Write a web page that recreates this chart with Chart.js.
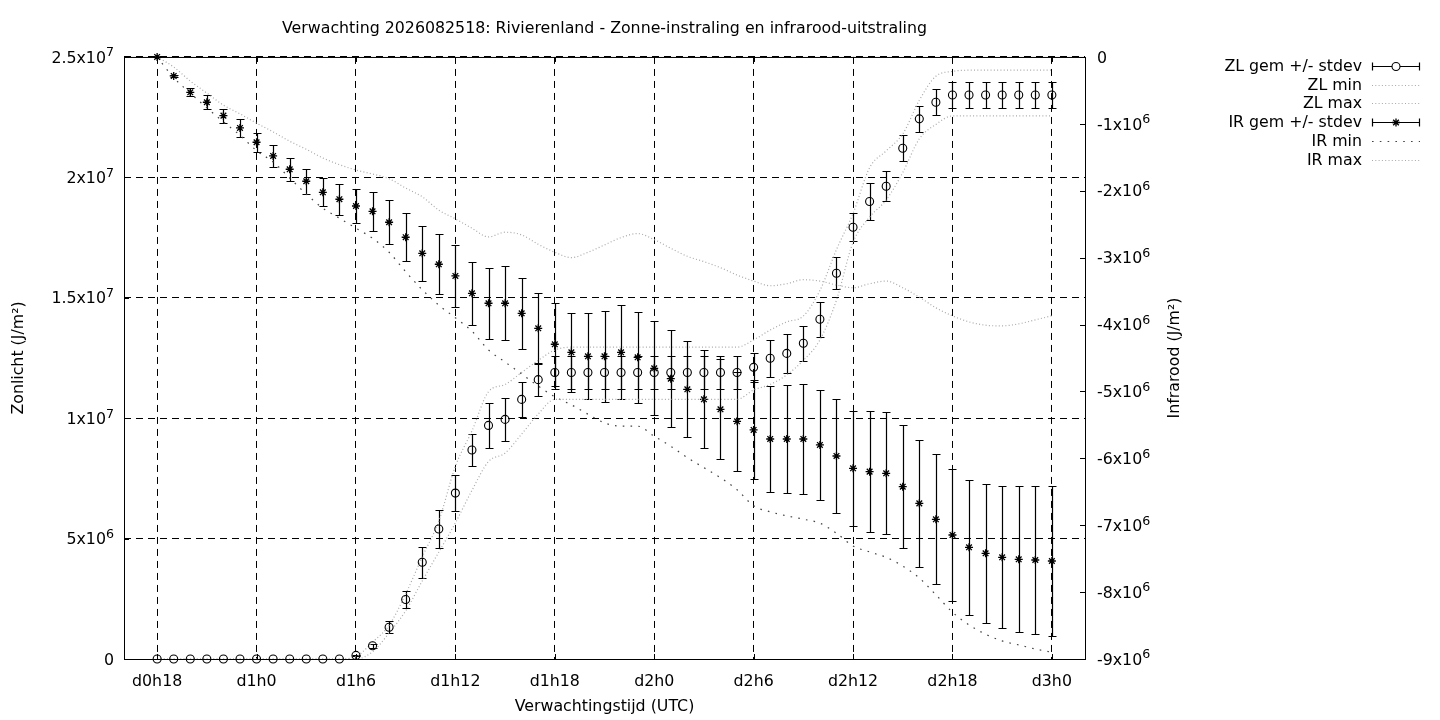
<!DOCTYPE html>
<html>
<head>
<meta charset="utf-8">
<title>Rivierenland - Zonne-instraling en infrarood-uitstraling</title>
<script src="https://cdn.jsdelivr.net/npm/chart.js@4.4.1/dist/chart.umd.min.js"></script>
<style>
  html, body { margin: 0; padding: 0; background: #fff; }
  #wrap { width: 1440px; height: 720px; }
</style>
</head>
<body>
<div id="wrap"><canvas id="chart" width="1440" height="720"></canvas></div>
<script>
// forecast hour, counted from d0h0
const hours = [
  18, 19, 20, 21, 22, 23, 24, 25, 26, 27, 28, 29,
  30, 31, 32, 33, 34, 35, 36, 37, 38, 39, 40, 41,
  42, 43, 44, 45, 46, 47, 48, 49, 50, 51, 52, 53,
  54, 55, 56, 57, 58, 59, 60, 61, 62, 63, 64, 65,
  66, 67, 68, 69, 70, 71, 72,
];

// zonlicht (J/m2), left axis
const zlMean = [
  0, 0, 0, 0, 0, 0, 0, 0, 0, 0, 0, 0,
  0.15e6, 0.55e6, 1.32e6, 2.47e6, 4.02e6, 5.4e6, 6.89e6, 8.68e6, 9.7e6, 9.95e6, 10.78e6, 11.6e6,
  11.9e6, 11.9e6, 11.9e6, 11.9e6, 11.9e6, 11.9e6, 11.9e6, 11.9e6, 11.9e6, 11.9e6, 11.9e6, 11.9e6,
  12.11e6, 12.49e6, 12.69e6, 13.11e6, 14.11e6, 16.02e6, 17.93e6, 19.0e6, 19.63e6, 21.21e6, 22.43e6, 23.12e6,
  23.42e6, 23.42e6, 23.42e6, 23.42e6, 23.42e6, 23.42e6, 23.42e6,
];
const zlStdev = [
  0, 0, 0, 0, 0, 0, 0, 0, 0, 0, 0, 0,
  0.03e6, 0.08e6, 0.25e6, 0.34e6, 0.64e6, 0.78e6, 0.75e6, 0.66e6, 0.95e6, 0.89e6, 0.73e6, 0.68e6,
  0.7e6, 0.7e6, 0.7e6, 0.7e6, 0.7e6, 0.7e6, 0.7e6, 0.7e6, 0.7e6, 0.7e6, 0.7e6, 0.7e6,
  0.6e6, 0.77e6, 0.8e6, 0.73e6, 0.73e6, 0.66e6, 0.58e6, 0.78e6, 0.62e6, 0.55e6, 0.55e6, 0.55e6,
  0.55e6, 0.55e6, 0.55e6, 0.55e6, 0.55e6, 0.55e6, 0.55e6,
];
const zlMin = [
  0, 0, 0, 0, 0, 0, 0, 0, 0, 0, 0, 0,
  0, 0.3e6, 1.08e6, 2.0e6, 3.24e6, 4.44e6, 5.65e6, 7.0e6, 8.2e6, 8.55e6, 9.34e6, 10.17e6,
  10.78e6, 10.78e6, 10.78e6, 10.78e6, 10.78e6, 10.78e6, 10.78e6, 10.78e6, 10.78e6, 10.78e6, 10.78e6, 10.78e6,
  11.17e6, 11.4e6, 11.8e6, 12.4e6, 13.25e6, 14.9e6, 17.3e6, 18.35e6, 19.06e6, 20.2e6, 21.6e6, 22.2e6,
  22.55e6, 22.55e6, 22.55e6, 22.55e6, 22.55e6, 22.55e6, 22.55e6,
];
const zlMax = [
  0, 0, 0, 0, 0, 0, 0, 0, 0, 0, 0, 0,
  0.1e6, 0.7e6, 1.4e6, 2.7e6, 4.24e6, 5.73e6, 8.0e6, 9.47e6, 11.1e6, 11.4e6, 11.9e6, 12.4e6,
  12.83e6, 12.95e6, 12.95e6, 12.95e6, 12.95e6, 12.95e6, 12.95e6, 12.95e6, 12.95e6, 12.95e6, 12.95e6, 12.95e6,
  13.25e6, 13.66e6, 14.0e6, 14.24e6, 15.3e6, 17.0e6, 18.5e6, 20.4e6, 21.1e6, 21.8e6, 23.2e6, 24.2e6,
  24.4e6, 24.45e6, 24.45e6, 24.45e6, 24.45e6, 24.45e6, 24.45e6,
];

// infrarood (J/m2), right axis
const irMean = [
  0, -0.284e6, -0.528e6, -0.677e6, -0.877e6, -1.061e6, -1.275e6, -1.48e6, -1.679e6, -1.858e6, -2.023e6, -2.127e6,
  -2.228e6, -2.307e6, -2.471e6, -2.695e6, -2.935e6, -3.099e6, -3.274e6, -3.533e6, -3.682e6, -3.682e6, -3.832e6, -4.056e6,
  -4.295e6, -4.415e6, -4.475e6, -4.475e6, -4.415e6, -4.49e6, -4.654e6, -4.809e6, -4.968e6, -5.118e6, -5.267e6, -5.447e6,
  -5.576e6, -5.711e6, -5.711e6, -5.711e6, -5.8e6, -5.965e6, -6.149e6, -6.199e6, -6.224e6, -6.424e6, -6.673e6, -6.912e6,
  -7.146e6, -7.33e6, -7.42e6, -7.48e6, -7.51e6, -7.52e6, -7.535e6,
];
const irStdev = [
  0, 0.02e6, 0.06e6, 0.105e6, 0.105e6, 0.13e6, 0.14e6, 0.165e6, 0.17e6, 0.185e6, 0.21e6, 0.23e6,
  0.26e6, 0.29e6, 0.33e6, 0.36e6, 0.41e6, 0.45e6, 0.46e6, 0.47e6, 0.53e6, 0.55e6, 0.53e6, 0.53e6,
  0.62e6, 0.59e6, 0.64e6, 0.68e6, 0.7e6, 0.68e6, 0.7e6, 0.72e6, 0.72e6, 0.73e6, 0.75e6, 0.74e6,
  0.74e6, 0.79e6, 0.81e6, 0.82e6, 0.82e6, 0.85e6, 0.86e6, 0.9e6, 0.91e6, 0.92e6, 0.95e6, 0.97e6,
  0.99e6, 1.01e6, 1.04e6, 1.06e6, 1.09e6, 1.11e6, 1.12e6,
];
const irMin = [
  0, -0.31e6, -0.54e6, -0.76e6, -0.97e6, -1.17e6, -1.4e6, -1.57e6, -1.81e6, -2.05e6, -2.26e6, -2.41e6,
  -2.56e6, -2.71e6, -2.92e6, -3.21e6, -3.48e6, -3.71e6, -3.9e6, -4.1e6, -4.38e6, -4.56e6, -4.74e6, -4.92e6,
  -5.08e6, -5.2e6, -5.34e6, -5.47e6, -5.52e6, -5.52e6, -5.67e6, -5.82e6, -5.99e6, -6.14e6, -6.29e6, -6.47e6,
  -6.71e6, -6.8e6, -6.86e6, -6.91e6, -6.97e6, -7.12e6, -7.31e6, -7.4e6, -7.48e6, -7.61e6, -7.79e6, -8.04e6,
  -8.3e6, -8.49e6, -8.63e6, -8.73e6, -8.79e6, -8.85e6, -8.9e6,
];
const irMax = [
  0, -0.15e6, -0.36e6, -0.54e6, -0.72e6, -0.85e6, -0.99e6, -1.12e6, -1.26e6, -1.38e6, -1.51e6, -1.61e6,
  -1.69e6, -1.75e6, -1.82e6, -1.96e6, -2.09e6, -2.29e6, -2.42e6, -2.56e6, -2.69e6, -2.62e6, -2.66e6, -2.8e6,
  -2.92e6, -3.0e6, -2.92e6, -2.81e6, -2.7e6, -2.64e6, -2.73e6, -2.86e6, -2.98e6, -3.06e6, -3.15e6, -3.26e6,
  -3.35e6, -3.42e6, -3.39e6, -3.33e6, -3.35e6, -3.41e6, -3.45e6, -3.39e6, -3.35e6, -3.45e6, -3.59e6, -3.75e6,
  -3.87e6, -3.96e6, -4.01e6, -4.02e6, -3.99e6, -3.93e6, -3.87e6,
];

// tick labels ("^" marks the exponent, drawn as superscript)
const xTickHours = [18, 24, 30, 36, 42, 48, 54, 60, 66, 72];
const xTickLabels = ["d0h18", "d1h0", "d1h6", "d1h12", "d1h18", "d2h0", "d2h6", "d2h12", "d2h18", "d3h0"];
const yTickValues = [0, 5e6, 10e6, 15e6, 20e6, 25e6];
const yTickLabels = ["0", "5x10^6", "1x10^7", "1.5x10^7", "2x10^7", "2.5x10^7"];
const y2TickValues = [-9e6, -8e6, -7e6, -6e6, -5e6, -4e6, -3e6, -2e6, -1e6, 0];
const y2TickLabels = ["-9x10^6", "-8x10^6", "-7x10^6", "-6x10^6", "-5x10^6",
  "-4x10^6", "-3x10^6", "-2x10^6", "-1x10^6", "0"];

const legendLabels = ["ZL gem +/- stdev", "ZL min", "ZL max", "IR gem +/- stdev", "IR min", "IR max"];

const FONT = "'DejaVu Sans', sans-serif";
const FS = 15.8;
const GRAY = "#a9a9a9";
const DOTS = [1, 2.3];
const SPARSE = [1.6, 6.2];

const pts = (vals) => hours.map((h, i) => ({ x: h, y: vals[i] }));

function drawErrorBars(ctx, xs, ys, mean, sd) {
  ctx.beginPath();
  hours.forEach((h, i) => {
    const px = Math.round(xs.getPixelForValue(h)) + 0.5;
    const top = Math.round(ys.getPixelForValue(mean[i] + sd[i])) + 0.5;
    const bot = Math.round(ys.getPixelForValue(mean[i] - sd[i])) + 0.5;
    ctx.moveTo(px, top);
    ctx.lineTo(px, bot);
    ctx.moveTo(px - 4, top);
    ctx.lineTo(px + 4, top);
    ctx.moveTo(px - 4, bot);
    ctx.lineTo(px + 4, bot);
  });
  ctx.stroke();
}

function drawMarker(ctx, style, x, y, r) {
  ctx.beginPath();
  if (style === "circle") {
    ctx.arc(x, y, r, 0, Math.PI * 2);
  } else {
    const d = r * Math.SQRT1_2;
    ctx.moveTo(x - r, y); ctx.lineTo(x + r, y);
    ctx.moveTo(x, y - r); ctx.lineTo(x, y + r);
    ctx.moveTo(x - d, y - d); ctx.lineTo(x + d, y + d);
    ctx.moveTo(x - d, y + d); ctx.lineTo(x + d, y - d);
  }
  ctx.stroke();
}

// label like "2.5x10^7": base text plus a raised, smaller exponent
function drawSupLabel(ctx, text, x, y, align) {
  const [base, sup] = text.split("^");
  const big = FS + "px " + FONT;
  const small = (FS * 0.8) + "px " + FONT;
  ctx.font = big;
  const wb = ctx.measureText(base).width;
  ctx.font = small;
  const ws = sup ? ctx.measureText(sup).width : 0;
  const x0 = align === "right" ? x - wb - ws : x;
  ctx.textAlign = "left";
  ctx.textBaseline = "alphabetic";
  const base_y = y + FS * 0.36;
  ctx.font = big;
  ctx.fillText(base, x0, base_y);
  if (sup) {
    ctx.font = small;
    ctx.fillText(sup, x0 + wb, base_y - FS * 0.4);
  }
}

const gnuplotExtras = {
  id: "gnuplotExtras",
  beforeDatasetsDraw(chart) {
    const { ctx, scales } = chart;
    ctx.save();
    ctx.strokeStyle = "#000";
    ctx.lineWidth = 1.2;
    drawErrorBars(ctx, scales.x, scales.y, zlMean, zlStdev);
    drawErrorBars(ctx, scales.x, scales.y2, irMean, irStdev);
    ctx.restore();
  },
  afterDraw(chart) {
    const { ctx, chartArea: a, scales } = chart;
    ctx.save();
    ctx.strokeStyle = "#000";
    ctx.lineWidth = 1;
    ctx.setLineDash([]);
    // border
    ctx.strokeRect(a.left + 0.5, a.top + 0.5, a.right - a.left, a.bottom - a.top);
    // inward tick marks
    ctx.beginPath();
    xTickHours.forEach((h) => {
      const px = Math.round(scales.x.getPixelForValue(h)) + 0.5;
      ctx.moveTo(px, a.bottom); ctx.lineTo(px, a.bottom - 5);
      ctx.moveTo(px, a.top); ctx.lineTo(px, a.top + 5);
    });
    yTickValues.forEach((v) => {
      const py = Math.round(scales.y.getPixelForValue(v)) + 0.5;
      ctx.moveTo(a.left, py); ctx.lineTo(a.left + 5, py);
    });
    y2TickValues.forEach((v) => {
      const py = Math.round(scales.y2.getPixelForValue(v)) + 0.5;
      ctx.moveTo(a.right, py); ctx.lineTo(a.right - 5, py);
    });
    ctx.stroke();

    // y tick labels with superscript exponents
    ctx.fillStyle = "#000";
    yTickValues.forEach((v, i) => {
      drawSupLabel(ctx, yTickLabels[i], a.left - 10, scales.y.getPixelForValue(v), "right");
    });
    y2TickValues.forEach((v, i) => {
      drawSupLabel(ctx, y2TickLabels[i], a.right + 12, scales.y2.getPixelForValue(v), "left");
    });

    // right axis title, reading bottom to top like the left one
    ctx.save();
    ctx.translate(1175, (a.top + a.bottom) / 2);
    ctx.rotate(-Math.PI / 2);
    ctx.font = FS + "px " + FONT;
    ctx.textAlign = "center";
    ctx.textBaseline = "middle";
    ctx.fillText("Infrarood (J/m\u00b2)", 0, 0);
    ctx.restore();

    // legend, top right
    ctx.font = FS + "px " + FONT;
    ctx.textAlign = "right";
    ctx.textBaseline = "middle";
    const x1 = 1372, x2 = 1420, xm = 1396;
    legendLabels.forEach((label, i) => {
      const y = Math.round(66 + i * 18.7) + 0.5;
      ctx.fillText(label, 1362, y);
      ctx.save();
      if (i === 0 || i === 3) {
        ctx.strokeStyle = "#000";
        ctx.lineWidth = 1.2;
        ctx.beginPath();
        ctx.moveTo(x1, y); ctx.lineTo(x2, y);
        ctx.moveTo(x1 + 0.5, y - 4); ctx.lineTo(x1 + 0.5, y + 4);
        ctx.moveTo(x2 - 0.5, y - 4); ctx.lineTo(x2 - 0.5, y + 4);
        ctx.stroke();
        if (i === 0) {
          ctx.fillStyle = "#fff";
          ctx.beginPath(); ctx.arc(xm, y, 4, 0, Math.PI * 2); ctx.fill();
          ctx.lineWidth = 1.1;
        } else {
          ctx.lineWidth = 1.3;
        }
        drawMarker(ctx, i === 0 ? "circle" : "star", xm, y, 4);
      } else {
        ctx.strokeStyle = i === 4 ? "#444" : GRAY;
        ctx.lineWidth = 1.2;
        ctx.setLineDash(i === 4 ? SPARSE : DOTS);
        ctx.beginPath();
        ctx.moveTo(x1, y); ctx.lineTo(x2, y);
        ctx.stroke();
      }
      ctx.restore();
    });
    ctx.restore();
  },
};

const dotted = (label, vals, axis, color, dash) => ({
  label,
  data: pts(vals),
  yAxisID: axis,
  borderColor: color,
  borderWidth: 1.2,
  borderDash: dash,
  pointRadius: 0,
  cubicInterpolationMode: "monotone",
  fill: false,
  clip: false,
});

const marks = (label, vals, axis, style, width) => ({
  label,
  data: pts(vals),
  yAxisID: axis,
  showLine: false,
  pointStyle: style,
  pointRadius: 4,
  pointBorderWidth: width,
  pointBorderColor: "#000",
  pointBackgroundColor: "rgba(0,0,0,0)",
  clip: false,
});

Chart.defaults.font.family = FONT;
Chart.defaults.font.size = FS;
Chart.defaults.color = "#000";

new Chart(document.getElementById("chart").getContext("2d"), {
  type: "line",
  data: {
    datasets: [
      marks("ZL gem +/- stdev", zlMean, "y", "circle", 1.1),
      dotted("ZL min", zlMin, "y", GRAY, DOTS),
      dotted("ZL max", zlMax, "y", GRAY, DOTS),
      marks("IR gem +/- stdev", irMean, "y2", "star", 1.3),
      dotted("IR min", irMin, "y2", "#444", SPARSE),
      dotted("IR max", irMax, "y2", GRAY, DOTS),
    ],
  },
  options: {
    responsive: false,
    devicePixelRatio: 1,
    animation: false,
    events: [],
    layout: { padding: { left: 0, right: 255, top: 0, bottom: 0 } },
    plugins: {
      legend: { display: false },
      tooltip: { enabled: false },
      title: {
        display: true,
        fullSize: false,
        text: "Verwachting 2026082518: Rivierenland - Zonne-instraling en infrarood-uitstraling",
        font: { size: FS, weight: "normal", lineHeight: 1.2 },
        color: "#000",
        padding: { top: 19, bottom: 19 },
      },
    },
    scales: {
      x: {
        type: "linear",
        min: 16,
        max: 74,
        afterBuildTicks: (s) => { s.ticks = xTickHours.map((v) => ({ value: v })); },
        afterFit: (s) => { s.height = 61; },
        ticks: {
          autoSkip: false,
          maxRotation: 0,
          padding: 13,
          callback: (v) => xTickLabels[xTickHours.indexOf(v)],
        },
        grid: { color: "#000", lineWidth: 1, drawTicks: false },
        border: { display: false, dash: [7, 5] },
        title: { display: true, text: "Verwachtingstijd (UTC)", padding: { top: 0, bottom: 4 } },
      },
      y: {
        type: "linear",
        position: "left",
        min: 0,
        max: 25e6,
        afterBuildTicks: (s) => { s.ticks = yTickValues.map((v) => ({ value: v })); },
        afterFit: (s) => { s.width = 124; },
        ticks: { display: false },
        grid: { color: "#000", lineWidth: 1, drawTicks: false },
        border: { display: false, dash: [7, 5] },
        title: { display: true, text: "Zonlicht (J/m\u00b2)", padding: { top: 9, bottom: 0 } },
      },
      y2: {
        type: "linear",
        position: "right",
        min: -9e6,
        max: 0,
        afterBuildTicks: (s) => { s.ticks = y2TickValues.map((v) => ({ value: v })); },
        afterFit: (s) => { s.width = 100; },
        ticks: { display: false },
        grid: { drawOnChartArea: false, drawTicks: false },
        border: { display: false },
      },
    },
  },
  plugins: [gnuplotExtras],
});
</script>
</body>
</html>
